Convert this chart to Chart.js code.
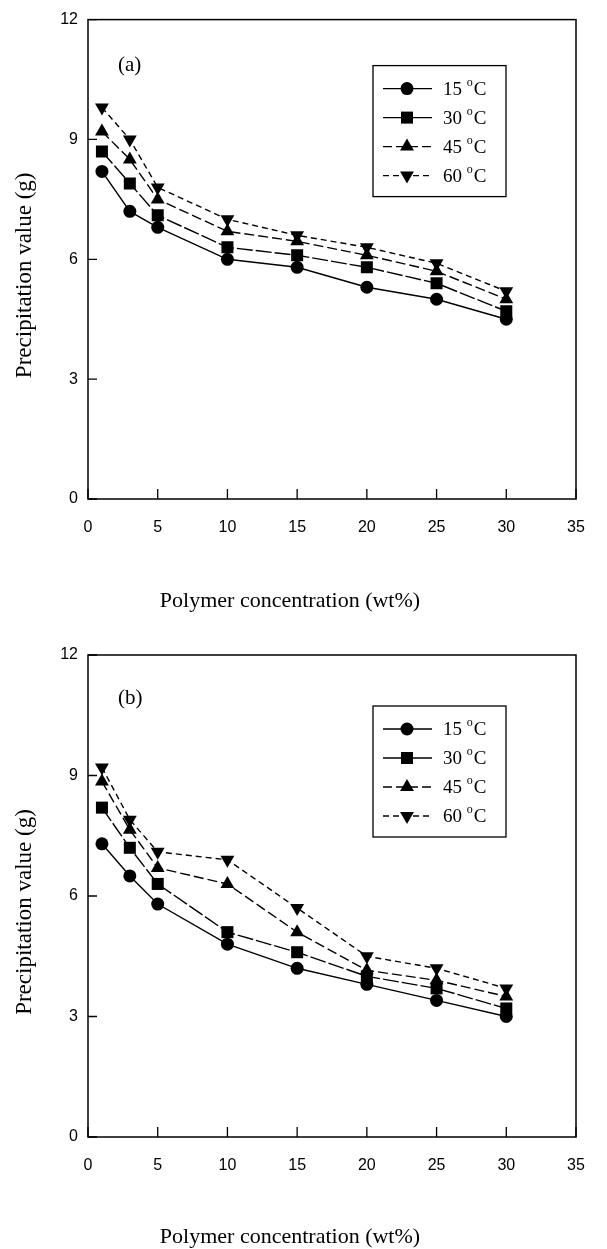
<!DOCTYPE html>
<html>
<head>
<meta charset="utf-8">
<script src="https://cdn.jsdelivr.net/npm/chart.js@4.4.1/dist/chart.umd.min.js"></script>
<style>
  body { margin: 0; background: #fff; }
  canvas { display: block; }
</style>
</head>
<body>
<canvas id="panelA" width="607" height="620"></canvas>
<canvas id="panelB" width="607" height="629"></canvas>
<script>
// polymer concentration (wt%) on x, precipitation value (g) on y
const concentrations = [1, 3, 5, 10, 15, 20, 25, 30];
const tempLabels = ['15 °C', '30 °C', '45 °C', '60 °C'];
const xTickValues = [0, 5, 10, 15, 20, 25, 30, 35];
const yTickValues = [0, 3, 6, 9, 12];

// panel (a)
const a15 = [8.2, 7.2, 6.8, 6.0, 5.8, 5.3, 5.0, 4.5];
const a30 = [8.7, 7.9, 7.1, 6.3, 6.1, 5.8, 5.4, 4.7];
const a45 = [9.2, 8.5, 7.5, 6.7, 6.45, 6.1, 5.7, 5.0];
const a60 = [9.8, 9.0, 7.8, 7.0, 6.6, 6.3, 5.9, 5.2];

// panel (b)
const b15 = [7.3, 6.5, 5.8, 4.8, 4.2, 3.8, 3.4, 3.0];
const b30 = [8.2, 7.2, 6.3, 5.1, 4.6, 4.0, 3.7, 3.2];
const b45 = [8.85, 7.65, 6.7, 6.3, 5.1, 4.15, 3.9, 3.5];
const b60 = [9.2, 7.9, 7.1, 6.9, 5.7, 4.5, 4.2, 3.7];

const seriesStyles = [
  { pointStyle: 'circle', radius: 6.5, rotation: 0, dash: [], legendDash: [] },
  { pointStyle: 'rect', radius: 8.5, rotation: 0, dash: [16, 3], legendDash: [] },
  { pointStyle: 'triangle', radius: 8, rotation: 0, dash: [10, 4], legendDash: [9, 4] },
  { pointStyle: 'triangle', radius: 8, rotation: 180, dash: [6, 4], legendDash: [6, 4] }
];

const SERIF = '"Liberation Serif", "Times New Roman", serif';
const SANS = '"Liberation Sans", Arial, sans-serif';

function drawMarker(ctx, style, x, y) {
  const r = style.radius;
  ctx.beginPath();
  if (style.pointStyle === 'circle') {
    ctx.arc(x, y, r, 0, Math.PI * 2);
  } else if (style.pointStyle === 'rect') {
    const s = r * Math.SQRT1_2;
    ctx.rect(x - s, y - s, 2 * s, 2 * s);
  } else {
    let rad = style.rotation * Math.PI / 180;
    ctx.moveTo(x + Math.sin(rad) * r, y - Math.cos(rad) * r);
    for (let k = 0; k < 2; k++) {
      rad += 2 * Math.PI / 3;
      ctx.lineTo(x + Math.sin(rad) * r, y - Math.cos(rad) * r);
    }
    ctx.closePath();
  }
  ctx.fill();
}

// frame, inward ticks, axis titles, panel tag and boxed legend
const paperPlugin = {
  id: 'paper',
  afterDraw(chart, args, opts) {
    const ctx = chart.ctx;
    const area = chart.chartArea;
    const xs = chart.scales.x;
    const ys = chart.scales.y;
    ctx.save();
    ctx.strokeStyle = '#000';
    ctx.fillStyle = '#000';
    ctx.lineWidth = 1.5;
    ctx.setLineDash([]);
    ctx.strokeRect(area.left, area.top, area.right - area.left, area.bottom - area.top);

    ctx.lineWidth = 1.3;
    ctx.beginPath();
    xs.ticks.forEach(t => {
      const px = xs.getPixelForValue(t.value);
      ctx.moveTo(px, area.bottom);
      ctx.lineTo(px, area.bottom - 10);
    });
    ys.ticks.forEach(t => {
      const py = ys.getPixelForValue(t.value);
      ctx.moveTo(area.left, py);
      ctx.lineTo(area.left + 9, py);
    });
    ctx.stroke();

    // axis titles
    ctx.textAlign = 'center';
    ctx.textBaseline = 'middle';
    ctx.font = '22px ' + SERIF;
    ctx.fillText('Polymer concentration (wt%)', area.left + 202, area.bottom + opts.xTitleGap);
    ctx.save();
    ctx.font = '23px ' + SERIF;
    ctx.translate(25, (area.top + area.bottom) / 2 + 16);
    ctx.rotate(-Math.PI / 2);
    ctx.fillText('Precipitation value (g)', 0, 0);
    ctx.restore();

    // panel tag
    ctx.font = '21px ' + SERIF;
    ctx.textAlign = 'left';
    ctx.fillText(opts.tag, area.left + 30, area.top + opts.tagGap);

    // legend
    const bx = area.left + 285;
    const by = area.top + opts.legendGap;
    ctx.lineWidth = 1.3;
    ctx.strokeRect(bx, by, 133, 131);
    chart.data.datasets.forEach((ds, i) => {
      const st = seriesStyles[i];
      const ly = by + 23 + i * 29;
      ctx.lineWidth = 1.4;
      ctx.setLineDash(st.legendDash);
      ctx.beginPath();
      ctx.moveTo(bx + 10, ly);
      ctx.lineTo(bx + 59, ly);
      ctx.stroke();
      ctx.setLineDash([]);
      drawMarker(ctx, st, bx + 34, ly);

      const parts = ds.label.split('°');
      let tx = bx + 70;
      ctx.font = '19px ' + SERIF;
      ctx.textBaseline = 'middle';
      ctx.fillText(parts[0], tx, ly + 1);
      tx += ctx.measureText(parts[0]).width;
      ctx.font = '12px ' + SERIF;
      ctx.fillText('o', tx, ly - 6);
      tx += ctx.measureText('o').width + 1;
      ctx.font = '19px ' + SERIF;
      ctx.fillText(parts[1], tx, ly + 1);
    });
    ctx.restore();
  }
};

function buildDatasets(seriesList) {
  return seriesList.map((values, i) => {
    const st = seriesStyles[i];
    return {
      label: tempLabels[i],
      data: concentrations.map((c, k) => ({ x: c, y: values[k] })),
      borderColor: '#000',
      backgroundColor: '#000',
      borderWidth: 1.4,
      borderDash: st.dash,
      pointStyle: st.pointStyle,
      pointRadius: st.radius,
      pointRotation: st.rotation,
      pointBorderWidth: 0,
      pointBackgroundColor: '#000',
      tension: 0
    };
  });
}

function makePanel(canvasId, seriesList, panel) {
  const ctx = document.getElementById(canvasId).getContext('2d');
  return new Chart(ctx, {
    type: 'line',
    data: { datasets: buildDatasets(seriesList) },
    options: {
      responsive: false,
      animation: false,
      layout: { padding: { top: panel.padTop, right: 31, left: 0, bottom: 0 } },
      plugins: {
        legend: { display: false },
        tooltip: { enabled: false },
        paper: panel
      },
      scales: {
        x: {
          type: 'linear',
          min: 0,
          max: 35,
          afterBuildTicks: s => { s.ticks = xTickValues.map(v => ({ value: v })); },
          afterFit: s => { s.height = panel.xAxisHeight; },
          grid: { display: false, drawTicks: false },
          border: { display: false },
          ticks: { color: '#000', padding: 19, font: { family: SANS, size: 16 } }
        },
        y: {
          min: 0,
          max: 12,
          afterBuildTicks: s => { s.ticks = yTickValues.map(v => ({ value: v })); },
          afterFit: s => { s.width = 88; },
          grid: { display: false, drawTicks: false },
          border: { display: false },
          ticks: { color: '#000', padding: 10, font: { family: SANS, size: 16 } }
        }
      }
    },
    plugins: [paperPlugin]
  });
}

makePanel('panelA', [a15, a30, a45, a60],
  { tag: '(a)', padTop: 16, xAxisHeight: 121, xTitleGap: 102, tagGap: 46, legendGap: 46 });
makePanel('panelB', [b15, b30, b45, b60],
  { tag: '(b)', padTop: 35, xAxisHeight: 112, xTitleGap: 100, tagGap: 43, legendGap: 51 });
</script>
</body>
</html>
